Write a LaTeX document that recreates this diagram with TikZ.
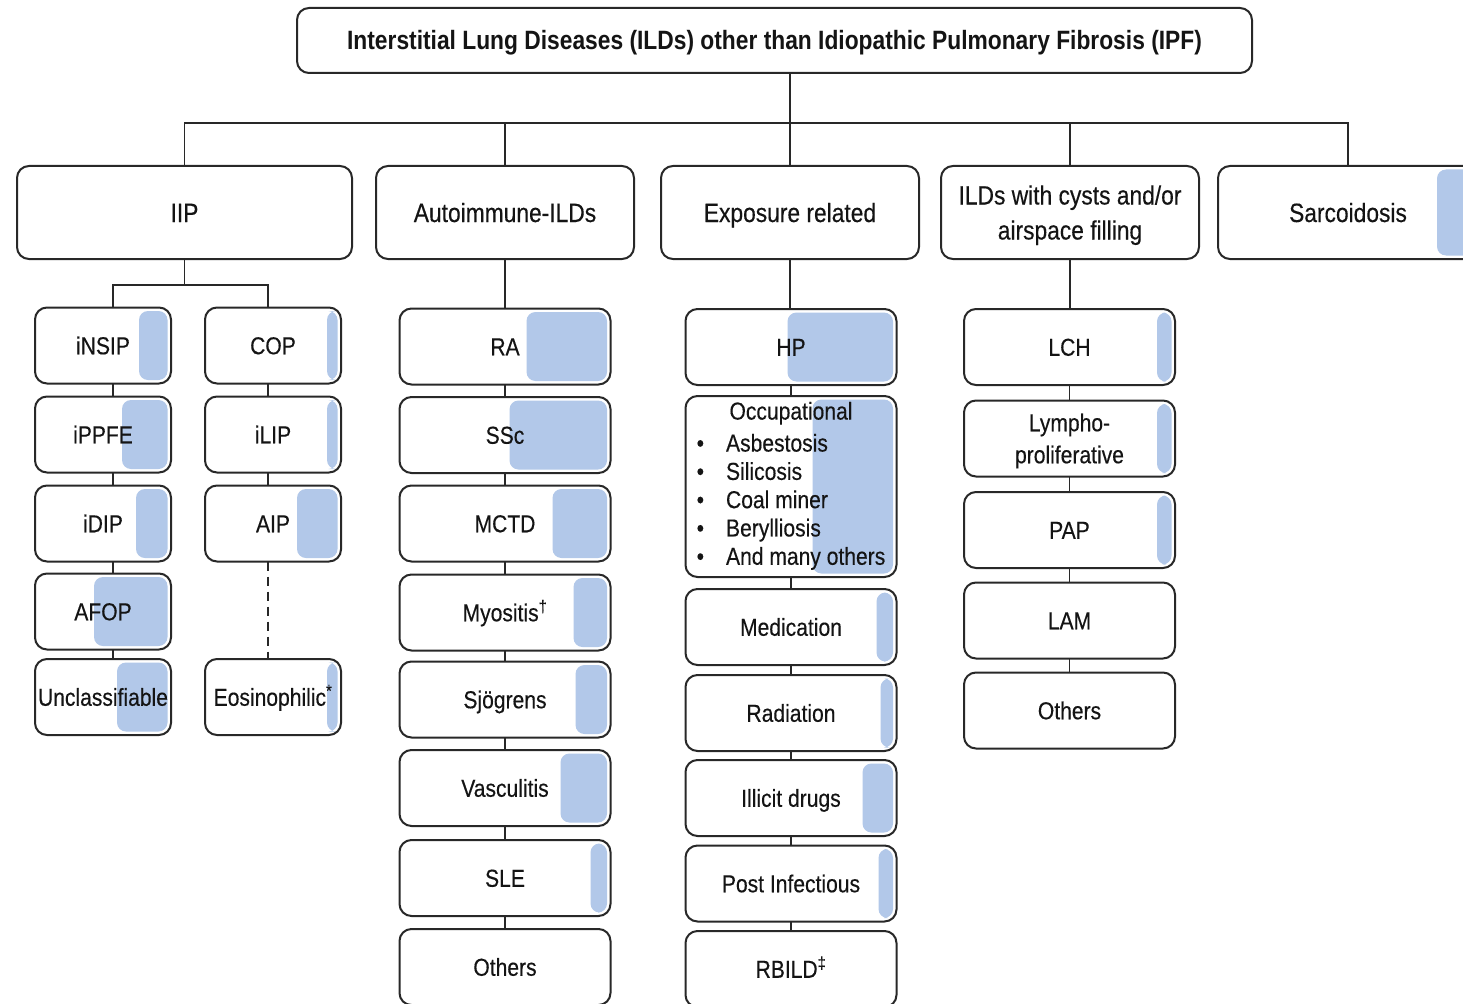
\documentclass[tikz,border=0pt]{standalone}
\usepackage{fontspec}
\setmainfont{Liberation Sans}[FakeStretch=0.86, UprightFeatures={FakeBold=0.3}]
\usetikzlibrary{calc,backgrounds}
\definecolor{hlblue}{RGB}{178,200,233}
\definecolor{edge}{RGB}{40,40,40}
\definecolor{ink}{RGB}{20,20,20}

\tikzset{
  every node/.style={inner sep=0pt, outer sep=0pt, text=ink},
  box/.style={draw=edge, line width=2pt, rounded corners=12pt, fill=white},
  topbox/.style={box, minimum width=258pt, minimum height=93pt,
    font=\fontsize{26.5}{35}\selectfont, align=center},
  sub/.style={box, minimum width=211pt, minimum height=76pt,
    font=\fontsize{24.5}{32}\selectfont, align=center},
  iipbox/.style={sub, minimum width=136pt},
  one/.style={text height=17.5pt, text depth=0pt},
  onebig/.style={text height=19pt, text depth=0pt},
  % two-line labels: the box baseline sits on the last line
  twobig/.style={text height=54pt, text depth=0pt},
  two/.style={text height=49.5pt, text depth=0pt},
  % blue band on the right side of a box; #1 = its width from the right border
  hl/.style={path picture={
    \fill[hlblue, rounded corners=9pt]
      ([shift={(-#1pt,-3.5pt)}]path picture bounding box.north east)
      rectangle ([shift={(-3.5pt,3.5pt)}]path picture bounding box.south east);
  }},
  link/.style={draw=edge, line width=1.6pt},
}

\begin{document}
\begin{tikzpicture}[x=1pt, y=-1pt]
\useasboundingbox (0,0) rectangle (1463,1003);
\clip (0,0) rectangle (1463,1003);

% root
\node[box, minimum width=955pt, minimum height=65pt,
      font=\bfseries\fontsize{26.5}{30}\selectfont, onebig] (title) at (774.5,40.5)
  {Interstitial Lung Diseases (ILDs) other than Idiopathic Pulmonary Fibrosis (IPF)};

% main groups
\node[topbox, minimum width=335pt, onebig] (iip)  at (184.5,212.5) {IIP};
\node[topbox, onebig] (auto) at (505,212.5) {Autoimmune-ILDs};
\node[topbox, onebig] (expo) at (790,212.5) {Exposure related};
\node[topbox, twobig] (cyst) at (1070,212.5) {ILDs with cysts and/or\\airspace filling};
\node[topbox, minimum width=260pt, onebig, hl=41] (sarc) at (1348,212.5) {Sarcoidosis};

% IIP, left column
\node[iipbox, one, hl=32] (insip)  at (103,345.5) {iNSIP};
\node[iipbox, one, hl=49] (ippfe)  at (103,434.5) {iPPFE};
\node[iipbox, one, hl=35] (idip)   at (103,523.5) {iDIP};
\node[iipbox, one, hl=77] (afop)   at (103,611.5) {AFOP};
\node[iipbox, one, hl=54] (unclass) at (103,697) {Unclassifiable};
% IIP, right column
\node[iipbox, one, hl=14] (cop)  at (273,345.5) {COP};
\node[iipbox, one, hl=14] (ilip) at (273,434.5) {iLIP};
\node[iipbox, one, hl=44] (aip)  at (273,523.5) {AIP};
\node[iipbox, one, hl=14] (eos)  at (273,697) {Eosinophilic\textsuperscript{*}};

% autoimmune
\node[sub, one, hl=84]  (ra)   at (505,346.5) {RA};
\node[sub, one, hl=101] (ssc)  at (505,435) {SSc};
\node[sub, one, hl=58]  (mctd) at (505,523.5) {MCTD};
\node[sub, one, hl=37]  (myo)  at (505,612.5) {Myositis\textsuperscript{†}};
\node[sub, one, hl=35]  (sjo)  at (505,699.5) {Sjögrens};
\node[sub, one, hl=50]  (vasc) at (505,788) {Vasculitis};
\node[sub, one, hl=20]  (sle)  at (505,878) {SLE};
\node[sub, one]         (aoth) at (505,967) {Others};

% exposure related
\node[sub, one, hl=109] (hp) at (791,347) {HP};
\node[sub, minimum height=181pt, hl=84] (occ) at (791,486.5)
  {\fontsize{24.5}{28.3}\selectfont
   \begin{tabular}{@{}l@{\hspace{22pt}}l@{}}
   \multicolumn{2}{@{}c@{}}{Occupational}\\[3.7pt]
   • & Asbestosis\\
   • & Silicosis\\
   • & Coal miner\\
   • & Berylliosis\\
   • & And many others
   \end{tabular}};
\node[sub, one, hl=20] (med)     at (791,627) {Medication};
\node[sub, one, hl=16] (rad)     at (791,713) {Radiation};
\node[sub, one, hl=34] (illicit) at (791,798) {Illicit drugs};
\node[sub, one, hl=18] (postinf) at (791,883.5) {Post Infectious};
\node[sub, one]        (rbild)   at (791,969) {RBILD\textsuperscript{‡}};

% cysts and airspace filling
\node[sub, one, hl=18] (lch)   at (1069.5,347) {LCH};
\node[sub, two, hl=18] (lympho) at (1069.5,438.5) {Lympho-\\proliferative};
\node[sub, one, hl=18] (pap)   at (1069.5,530) {PAP};
\node[sub, one]        (lam)   at (1069.5,620.5) {LAM};
\node[sub, one]        (coth)  at (1069.5,710.5) {Others};

% connectors
\begin{scope}[on background layer]
  \coordinate (bus) at (0,123);
  \draw[link] (title.south -| expo.north) -- (expo.north);
  \draw[link] (iip.north) -- (iip.north |- bus) -- (sarc.north |- bus) -- (sarc.north);
  \draw[link] (auto.north |- bus) -- (auto.north);
  \draw[link] (cyst.north |- bus) -- (cyst.north);

  % IIP branches
  \coordinate (ibus) at (0,285);
  \coordinate (lx) at (113,0);
  \coordinate (rx) at (268,0);
  \draw[link] (iip.south) -- (iip.south |- ibus);
  \draw[link] (lx |- insip.north) -- (lx |- ibus) -- (rx |- ibus) -- (rx |- cop.north);
  \draw[link] (lx |- insip.south) -- (lx |- ippfe.north);
  \draw[link] (lx |- ippfe.south) -- (lx |- idip.north);
  \draw[link] (lx |- idip.south)  -- (lx |- afop.north);
  \draw[link] (lx |- afop.south)  -- (lx |- unclass.north);
  \draw[link] (rx |- cop.south)   -- (rx |- ilip.north);
  \draw[link] (rx |- ilip.south)  -- (rx |- aip.north);
  \draw[link, dash pattern=on 9pt off 6pt] (rx |- aip.south) -- (rx |- eos.north);

  % autoimmune chain
  \draw[link] (auto.south) -- (ra.north);
  \foreach \a/\b in {ra/ssc, ssc/mctd, mctd/myo, myo/sjo, sjo/vasc, vasc/sle, sle/aoth}
    \draw[link] (\a.south) -- (\b.north);

  % exposure chain
  \draw[link] (expo.south) -- (expo.south |- hp.north);
  \foreach \a/\b in {hp/occ, occ/med, med/rad, rad/illicit, illicit/postinf, postinf/rbild}
    \draw[link] (\a.south) -- (\b.north);

  % cysts chain
  \draw[link] (cyst.south) -- (cyst.south |- lch.north);
  \foreach \a/\b in {lch/lympho, lympho/pap, pap/lam, lam/coth}
    \draw[link] (\a.south) -- (\b.north);
\end{scope}
\end{tikzpicture}
\end{document}
